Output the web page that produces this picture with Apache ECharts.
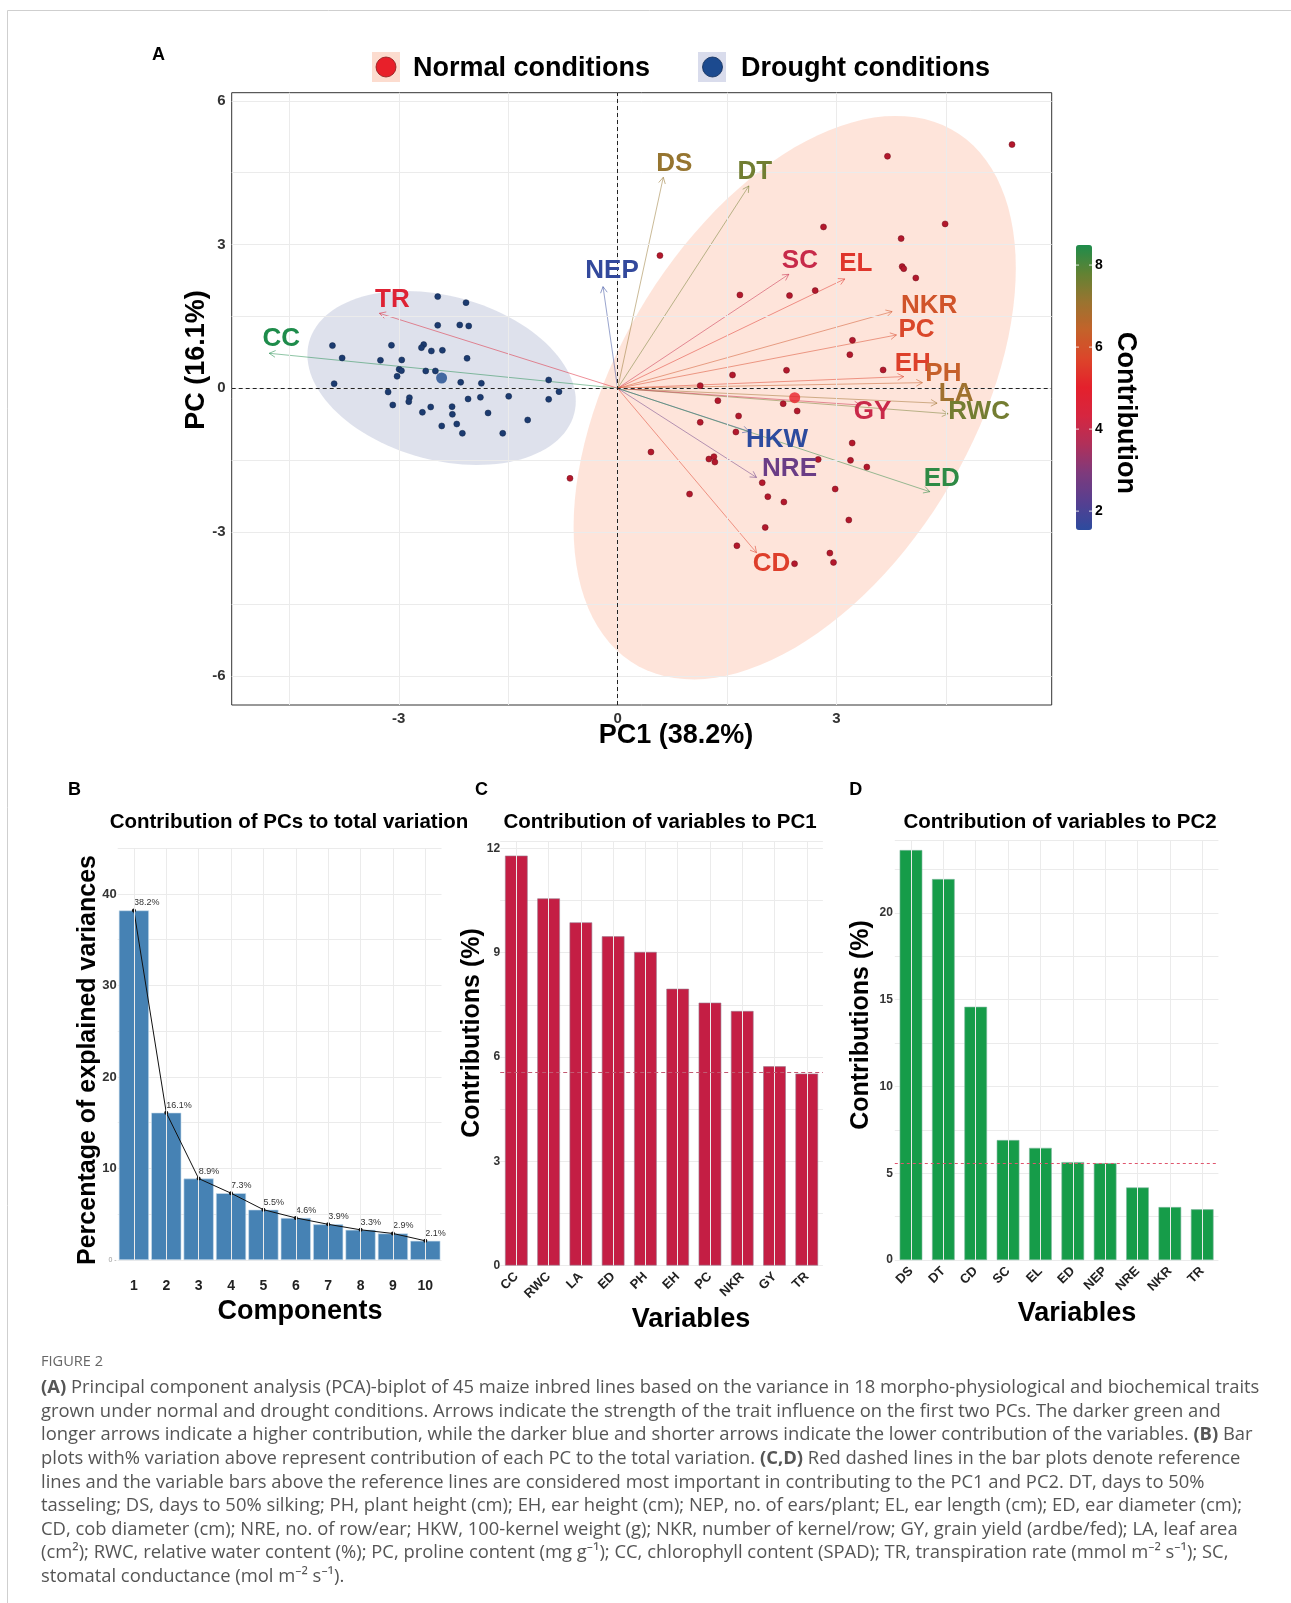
<!DOCTYPE html>
<html><head><meta charset="utf-8">
<script src="https://cdn.jsdelivr.net/npm/echarts@6/dist/echarts.min.js"></script>
<style>html,body{margin:0;padding:0;background:#fff}#c{width:1291px;height:1603px}</style>
</head><body><div id="c"></div><script>
// ---------------- DATA ----------------
const droughtPoints = [
 [-2.466,1.914],[-2.078,1.788],[-2.466,1.315],[-2.164,1.322],[-2.041,1.301],[-3.909,0.891],[-3.100,0.898],
 [-2.658,0.912],[-2.689,0.849],[-2.553,0.779],[-2.402,0.793],[-3.776,0.633],[-3.251,0.585],[-2.959,0.592],
 [-2.064,0.626],[-2.995,0.397],[-2.963,0.369],[-3.023,0.251],[-2.630,0.362],[-2.498,0.362],[-0.945,0.174],
 [-3.886,0.097],[-2.151,0.125],[-1.868,0.104],[-3.146,-0.077],[-0.804,-0.070],[-1.493,-0.167],[-1.881,-0.188],
 [-2.050,-0.223],[-2.854,-0.195],[-2.863,-0.278],[-0.945,-0.230],[-3.082,-0.348],[-2.562,-0.390],[-2.269,-0.383],
 [-2.676,-0.501],[-2.265,-0.543],[-1.776,-0.515],[-2.205,-0.745],[-2.411,-0.786],[-1.233,-0.661],[-2.128,-0.939],
 [-1.575,-0.939]
];
const normalPoints = [
 [5.406,5.087],[3.699,4.843],[2.822,3.368],[4.489,3.431],[3.886,3.125],[0.580,2.770],[3.900,2.540],[3.922,2.498],
 [4.087,2.303],[1.676,1.949],[2.356,1.935],[2.708,2.039],[3.219,1.002],[3.183,0.703],[1.575,0.278],[2.315,0.376],
 [3.639,0.383],[1.132,0.056],[1.374,-0.258],[2.269,-0.321],[2.461,-0.474],[1.658,-0.578],[1.132,-0.710],
 [1.621,-0.912],[0.457,-1.330],[1.251,-1.476],[1.320,-1.427],[1.333,-1.539],[2.749,-1.484],[3.215,-1.142],
 [3.192,-1.504],[3.416,-1.643],[1.982,-1.970],[0.986,-2.207],[2.059,-2.262],[2.279,-2.373],[2.982,-2.102],
 [3.169,-2.749],[2.023,-2.903],[1.635,-3.286],[2.425,-3.661],[2.909,-3.439],[2.959,-3.634],[-0.653,-1.879]
];
const varNames   = ['DS','DT','SC','EL','NKR','PC','EH','PH','LA','RWC','GY','HKW','NRE','ED','CD','NEP','TR','CC'];
const varPC1     = [0.626,1.799,2.347,3.114,3.763,3.822,3.922,4.178,4.379,4.53,3.33,1.8,1.904,4.279,1.904,-0.2,-3.265,-4.776];
const varPC2     = [4.405,4.224,2.380,2.283,1.601,1.113,0.244,0.118,-0.31,-0.53,-0.35,-0.9,-1.86,-2.158,-3.431,2.122,1.566,0.731];
const varContrib = [7.15,7.61,4.05,5.41,6.07,5.76,5.62,6.35,7.01,7.57,4.08,1.54,2.57,8.33,5.57,1.64,4.73,8.49];
const xTicksA = [-3,0,3];
const yTicksA = [-6,-3,0,3,6];
const xGridA = [-4.5,-3,-1.5,0,1.5,3,4.5];
const yGridA = [-6,-4.5,-3,-1.5,0,1.5,3,4.5,6];
const contribTicks = [2,4,6,8];

const compsB = ['1','2','3','4','5','6','7','8','9','10'];
const explVarB = [38.2,16.1,8.9,7.3,5.5,4.6,3.9,3.3,2.9,2.1];
const varsC = ['CC','RWC','LA','ED','PH','EH','PC','NKR','GY','TR'];
const contribC = [11.79,10.56,9.87,9.47,9.02,7.96,7.56,7.32,5.73,5.52];
const varsD = ['DS','DT','CD','SC','EL','ED','NEP','NRE','NKR','TR'];
const contribD = [23.62,21.95,14.59,6.91,6.46,5.64,5.58,4.18,3.05,2.92];

// ---------------- STYLE ----------------
const F = "'Liberation Sans', Arial, Helvetica, sans-serif";
const labelOffset = {DS:[11,-14],DT:[6,-15],SC:[11,-14],EL:[11,-16],NKR:[37,-7],PC:[20,-6],EH:[9,-14],PH:[21,-10],
  LA:[19,-10],RWC:[31,-3],GY:[12,6],HKW:[28,7],NRE:[33,-10],ED:[12,-14],CD:[15,10],NEP:[9,-17],TR:[13,-14],CC:[12,-15]};
const contribColors = ['#2d4b9e','#573f90','#7e3a7c','#b0305a','#d62640','#e4202c','#dc452a','#c4622a','#9a7430','#628233','#1e8c4b'];
const refValue = 100 / varNames.length;

// ---------------- HELPERS ----------------
function mean(pts){ let sx=0, sy=0; pts.forEach(p=>{sx+=p[0]; sy+=p[1];}); return [sx/pts.length, sy/pts.length]; }
function ellipse(pts, level){
  const n = pts.length, m = mean(pts);
  let sxx=0, syy=0, sxy=0;
  pts.forEach(p=>{ const dx=p[0]-m[0], dy=p[1]-m[1]; sxx+=dx*dx; syy+=dy*dy; sxy+=dx*dy; });
  sxx/=(n-1); syy/=(n-1); sxy/=(n-1);
  const df = n-1;
  const q = (df/2) * (Math.pow(1-level, -2/df) - 1); // F(2,df) quantile
  const r = Math.sqrt(2*q);
  const a = Math.sqrt(sxx), b = sxy/a, c = Math.sqrt(syy - b*b);
  const out = [];
  for (let i=0;i<=120;i++){ const t = i/120*2*Math.PI;
    out.push([m[0] + r*a*Math.cos(t), m[1] + r*(b*Math.cos(t) + c*Math.sin(t))]); }
  return out;
}
const ellipses = [
  {pts: ellipse(normalPoints, 0.95), fill: 'rgba(248,118,70,0.20)'},
  {pts: ellipse(droughtPoints, 0.95), fill: 'rgba(30,50,125,0.145)'}
];
const cN = mean(normalPoints), cD = mean(droughtPoints);
const cMin = Math.min(...varContrib), cMax = Math.max(...varContrib);

function txt(x, y, text, st, extra){
  return Object.assign({type:'text', x:x, y:y, silent:true,
    style: Object.assign({text:text, fontFamily:F, fontSize:14, fontWeight:'bold', fill:'#000', align:'center', verticalAlign:'middle'}, st||{})}, extra||{});
}
function everyLabel(step){ return v => (Math.abs(v/step - Math.round(v/step)) < 1e-6) ? String(Math.round(v*100)/100) : ''; }

// ---------------- CAPTION ----------------
const captionLines = [
 '{b|(A)} Principal component analysis (PCA)-biplot of 45 maize inbred lines based on the variance in 18 morpho-physiological and biochemical traits',
 'grown under normal and drought conditions. Arrows indicate the strength of the trait influence on the first two PCs. The darker green and',
 'longer arrows indicate a higher contribution, while the darker blue and shorter arrows indicate the lower contribution of the variables. {b|(B)} Bar',
 'plots with% variation above represent contribution of each PC to the total variation. {b|(C,D)} Red dashed lines in the bar plots denote reference',
 'lines and the variable bars above the reference lines are considered most important in contributing to the PC1 and PC2. DT, days to 50%',
 'tasseling; DS, days to 50% silking; PH, plant height (cm); EH, ear height (cm); NEP, no. of ears/plant; EL, ear length (cm); ED, ear diameter (cm);',
 'CD, cob diameter (cm); NRE, no. of row/ear; HKW, 100-kernel weight (g); NKR, number of kernel/row; GY, grain yield (ardbe/fed); LA, leaf area',
 '(cm\u00B2); RWC, relative water content (%); PC, proline content (mg g\u207B\u00B9); CC, chlorophyll content (SPAD); TR, transpiration rate (mmol m\u207B\u00B2 s\u207B\u00B9); SC,',
 'stomatal conductance (mol m\u207B\u00B2 s\u207B\u00B9).'
];
const CF = "'Open Sans', 'Noto Sans', sans-serif";
const capSize = 18.4;

// ---------------- GRAPHIC ----------------
const cbTop = 245, cbH = 285, cbLeft = 1076, cbW = 16;
const graphics = [
  {type:'rect', silent:true, shape:{x:7.5, y:10.5, width:1300, height:1600}, style:{fill:'none', stroke:'#cfcfcf', lineWidth:1}},
  txt(158.5, 55, 'A', {fontSize:18}),
  {type:'rect', silent:true, shape:{x:372, y:52, width:28, height:30}, style:{fill:'#fcdccf'}},
  {type:'circle', silent:true, shape:{cx:386, cy:67, r:10}, style:{fill:'#e8202a', stroke:'#8a1a1a', lineWidth:0.8}},
  txt(413, 69, 'Normal conditions', {fontSize:27, align:'left'}),
  {type:'rect', silent:true, shape:{x:698, y:52, width:28, height:30}, style:{fill:'#d9dcec'}},
  {type:'circle', silent:true, shape:{cx:712.5, cy:67, r:10}, style:{fill:'#1c4a8f', stroke:'#0d2a55', lineWidth:0.8}},
  txt(741, 69, 'Drought conditions', {fontSize:27, align:'left'}),
  txt(676, 736, 'PC1 (38.2%)', {fontSize:27}),
  txt(197, 360, 'PC (16.1%)', {fontSize:27}, {rotation:Math.PI/2}),
  txt(1125, 413, 'Contribution', {fontSize:27}, {rotation:-Math.PI/2}),
  txt(74.6, 790, 'B', {fontSize:18}),
  txt(481.6, 790, 'C', {fontSize:18}),
  txt(855.8, 790, 'D', {fontSize:18}),
  txt(289, 822, 'Contribution of PCs to total variation', {fontSize:20.5}),
  txt(660, 822, 'Contribution of variables to PC1', {fontSize:20.5}),
  txt(1060, 822, 'Contribution of variables to PC2', {fontSize:20.5}),
  txt(88, 1060, 'Percentage of explained variances', {fontSize:25}, {rotation:Math.PI/2}),
  txt(300, 1312, 'Components', {fontSize:27}),
  txt(472, 1033, 'Contributions (%)', {fontSize:25}, {rotation:Math.PI/2}),
  txt(691, 1320, 'Variables', {fontSize:27}),
  txt(861, 1025, 'Contributions (%)', {fontSize:25}, {rotation:Math.PI/2}),
  txt(1077, 1314, 'Variables', {fontSize:27}),
  txt(41, 1362, 'FIGURE 2', {fontFamily:CF, fontSize:14.6, fontWeight:'normal', fill:'#666', align:'left'})
];
contribTicks.forEach(v => {
  const y = cbTop + (cMax - v) / (cMax - cMin) * cbH;
  graphics.push(txt(1095, y, String(v), {fontSize:14, align:'left'}));
  graphics.push({type:'line', silent:true, z:100, shape:{x1:cbLeft, y1:y, x2:cbLeft+3, y2:y}, style:{stroke:'rgba(255,255,255,0.8)', lineWidth:1}});
  graphics.push({type:'line', silent:true, z:100, shape:{x1:cbLeft+cbW-3, y1:y, x2:cbLeft+cbW, y2:y}, style:{stroke:'rgba(255,255,255,0.8)', lineWidth:1}});
});
captionLines.forEach((line, i) => {
  graphics.push({type:'text', silent:true, x:41, y:1388 + i*23.6, style:{text:line, fontFamily:CF, fontSize:capSize, fill:'#555',
    align:'left', verticalAlign:'middle', rich:{b:{fontFamily:CF, fontSize:capSize, fontWeight:'bold', fill:'#555'}}}});
});

// ---------------- CHART ----------------
const chart = echarts.init(document.getElementById('c'), null, {renderer:'canvas'});
const gl = {color:'#ebebeb', width:1, type:'solid'};
const mlBase = {silent:true, symbol:'none', label:{show:false}, animation:false};
const catX = (i, data, size) => ({type:'category', gridIndex:i, data:data, axisLine:{show:false}, axisTick:{show:false},
  splitLine:{show:false}, axisLabel: size});
const option = {
  animation:false,
  backgroundColor:'#fff',
  grid:[
    {left:231.7, top:92.7, width:820, height:612.3, show:true, borderColor:'#333', borderWidth:1, backgroundColor:'transparent'},
    {left:117.7, top:848.2, width:323.8, height:411.8},
    {left:500.2, top:841.4, width:322.7, height:424.1},
    {left:894.8, top:840, width:323.6, height:420}
  ],
  xAxis:[
    {type:'value', gridIndex:0, min:-5.29, max:5.95, splitLine:{show:false}, axisLine:{show:false},
      axisTick:{show:true, length:4, customValues:xTicksA, lineStyle:{color:'#333'}},
      axisLabel:{customValues:xTicksA, fontFamily:F, fontWeight:'bold', fontSize:15, color:'#333', margin:6}},
    catX(1, compsB, {fontFamily:F, fontWeight:'bold', fontSize:14, color:'#222', margin:19}),
    catX(2, varsC, {fontFamily:F, fontWeight:'bold', fontSize:13, color:'#222', rotate:45, margin:9}),
    catX(3, varsD, {fontFamily:F, fontWeight:'bold', fontSize:13, color:'#222', rotate:45, margin:9})
  ],
  yAxis:[
    {type:'value', gridIndex:0, min:-6.61, max:6.17, splitLine:{show:false}, axisLine:{show:false},
      axisTick:{show:true, length:4, customValues:yTicksA, lineStyle:{color:'#333'}},
      axisLabel:{customValues:yTicksA, fontFamily:F, fontWeight:'bold', fontSize:15, color:'#333', margin:6}},
    {type:'value', gridIndex:1, min:0, max:45, interval:5, axisLine:{show:false}, axisTick:{show:false},
      splitLine:{show:true, lineStyle:gl},
      axisLabel:{fontFamily:F, fontWeight:'bold', fontSize:13, color:'#333', margin:1,
        formatter: v => v === 0 ? '{z|0 -}' : (v % 10 === 0 ? String(v) : ''),
        rich:{z:{fontSize:7, color:'#999', fontWeight:'normal', fontFamily:F}}}},
    {type:'value', gridIndex:2, min:0, max:12.2, interval:1.5, axisLine:{show:false}, axisTick:{show:false},
      splitLine:{show:true, lineStyle:gl}, axisLabel:{fontFamily:F, fontWeight:'bold', fontSize:12, color:'#333', margin:0, formatter: everyLabel(3)}},
    {type:'value', gridIndex:3, min:0, max:24.2, interval:2.5, axisLine:{show:false}, axisTick:{show:false},
      splitLine:{show:true, lineStyle:gl}, axisLabel:{fontFamily:F, fontWeight:'bold', fontSize:12, color:'#333', margin:2, formatter: everyLabel(5)}}
  ],
  visualMap:[{
    type:'continuous', min:cMin, max:cMax, dimension:2, seriesIndex:[3,7], calculable:false, text:null,
    orient:'vertical', left:cbLeft, top:cbTop, itemWidth:cbW, itemHeight:cbH, padding:0, hoverLink:false,
    inRange:{color: contribColors}
  }],
  series:[
    // 0 grid lines A
    {type:'line', xAxisIndex:0, yAxisIndex:0, data:[[-100,-100]], showSymbol:false, z:1, silent:true,
      markLine: Object.assign({}, mlBase, {lineStyle:gl, data: xGridA.map(v=>({xAxis:v})).concat(yGridA.map(v=>({yAxis:v})))})},
    // 1 ellipses
    {type:'custom', xAxisIndex:0, yAxisIndex:0, z:2, silent:true, data:[[0,0],[0,0]],
      renderItem:(params, api) => {
        const e = ellipses[params.dataIndex];
        return {type:'polygon', shape:{points:e.pts.map(p => api.coord(p))}, style:{fill:e.fill, stroke:null},
          clipPath:{type:'rect', shape:{x:params.coordSys.x, y:params.coordSys.y, width:params.coordSys.width, height:params.coordSys.height}}};
      }},
    // 2 zero lines
    {type:'line', xAxisIndex:0, yAxisIndex:0, data:[[-100,-100]], showSymbol:false, z:3, silent:true,
      markLine: Object.assign({}, mlBase, {lineStyle:{color:'#222', width:1, type:[4,3]}, data:[{xAxis:0},{yAxis:0}]})},
    // 3 arrows
    {type:'custom', xAxisIndex:0, yAxisIndex:0, z:4, silent:true,
      data: varNames.map((n,i) => [varPC1[i], varPC2[i], varContrib[i]]),
      renderItem:(params, api) => {
        const o = api.coord([0,0]), t = api.coord([api.value(0), api.value(1)]);
        const c = api.visual('color');
        const ang = Math.atan2(t[1]-o[1], t[0]-o[0]), L = 7, a = 0.5;
        const p1 = [t[0]-L*Math.cos(ang-a), t[1]-L*Math.sin(ang-a)];
        const p2 = [t[0]-L*Math.cos(ang+a), t[1]-L*Math.sin(ang+a)];
        return {type:'group', children:[
          {type:'line', shape:{x1:o[0], y1:o[1], x2:t[0], y2:t[1]}, style:{stroke:c, lineWidth:1, opacity:0.5}},
          {type:'polyline', shape:{points:[p1, t, p2]}, style:{stroke:c, fill:null, lineWidth:1, opacity:0.55}}
        ]};
      }},
    // 4 drought points
    {type:'scatter', xAxisIndex:0, yAxisIndex:0, z:5, silent:true, data:droughtPoints, symbolSize:6,
      itemStyle:{color:'#1c3b70', borderColor:'#0f2448', borderWidth:0.5, opacity:1}},
    // 5 normal points
    {type:'scatter', xAxisIndex:0, yAxisIndex:0, z:5, silent:true, data:normalPoints, symbolSize:6,
      itemStyle:{color:'#b3182c', borderColor:'#6e0e1a', borderWidth:0.5, opacity:1}},
    // 6 centroids
    {type:'scatter', xAxisIndex:0, yAxisIndex:0, z:6, silent:true, symbolSize:11,
      data:[{value:cN, itemStyle:{color:'#e8202a'}}, {value:cD, itemStyle:{color:'#1c4a8f'}}]},
    // 7 labels
    {type:'custom', xAxisIndex:0, yAxisIndex:0, z:7, silent:true,
      data: varNames.map((n,i) => [varPC1[i], varPC2[i], varContrib[i]]),
      renderItem:(params, api) => {
        const name = varNames[params.dataIndex], off = labelOffset[name];
        const p = api.coord([api.value(0), api.value(1)]);
        return {type:'text', x:p[0]+off[0], y:p[1]+off[1]+1,
          style:{text:name, fill:api.visual('color'), fontFamily:F, fontWeight:'bold', fontSize:26, align:'center', verticalAlign:'middle'}};
      }},
    // 8 grid B
    {type:'line', xAxisIndex:1, yAxisIndex:1, data:compsB.map(()=>'-'), showSymbol:false, z:1, silent:true,
      markLine: Object.assign({}, mlBase, {lineStyle:gl, data: compsB.map(c=>({xAxis:c}))})},
    // 9 bars B
    {type:'bar', xAxisIndex:1, yAxisIndex:1, data:explVarB, barWidth:'93%', z:2, silent:true,
      itemStyle:{color:'#4682b4', borderColor:'#cfe0ee', borderWidth:0.6}},
    // 10 line B
    {type:'line', xAxisIndex:1, yAxisIndex:1, data:explVarB, z:3, silent:true, symbol:'circle', symbolSize:4,
      lineStyle:{color:'#111', width:1}, itemStyle:{color:'#111'},
      label:{show:true, position:'top', align:'left', distance:1, formatter: p => p.value + '%', fontFamily:F, fontSize:9, color:'#333'}},
    // 11 grid C
    {type:'line', xAxisIndex:2, yAxisIndex:2, data:varsC.map(()=>'-'), showSymbol:false, z:1, silent:true,
      markLine: Object.assign({}, mlBase, {lineStyle:gl, data: varsC.map(c=>({xAxis:c}))})},
    // 12 bars C
    {type:'bar', xAxisIndex:2, yAxisIndex:2, data:contribC, barWidth:'70%', z:2, silent:true,
      itemStyle:{color:'#c41e44', borderColor:'#9a7a8e', borderWidth:0.6},
      markLine: Object.assign({}, mlBase, {lineStyle:{color:'#c25a72', width:1, type:[4,3]}, data:[{yAxis:refValue}]})},
    // 13 grid D
    {type:'line', xAxisIndex:3, yAxisIndex:3, data:varsD.map(()=>'-'), showSymbol:false, z:1, silent:true,
      markLine: Object.assign({}, mlBase, {lineStyle:gl, data: varsD.map(c=>({xAxis:c}))})},
    // 14 bars D
    {type:'bar', xAxisIndex:3, yAxisIndex:3, data:contribD, barWidth:'70%', z:2, silent:true,
      itemStyle:{color:'#169c49', borderColor:'#7fb8a0', borderWidth:0.6},
      markLine: Object.assign({}, mlBase, {lineStyle:{color:'#e0566e', width:1, type:[3,3]}, data:[{yAxis:refValue}]})}
  ],
  graphic: graphics
};
chart.setOption(option);
</script></body></html>
